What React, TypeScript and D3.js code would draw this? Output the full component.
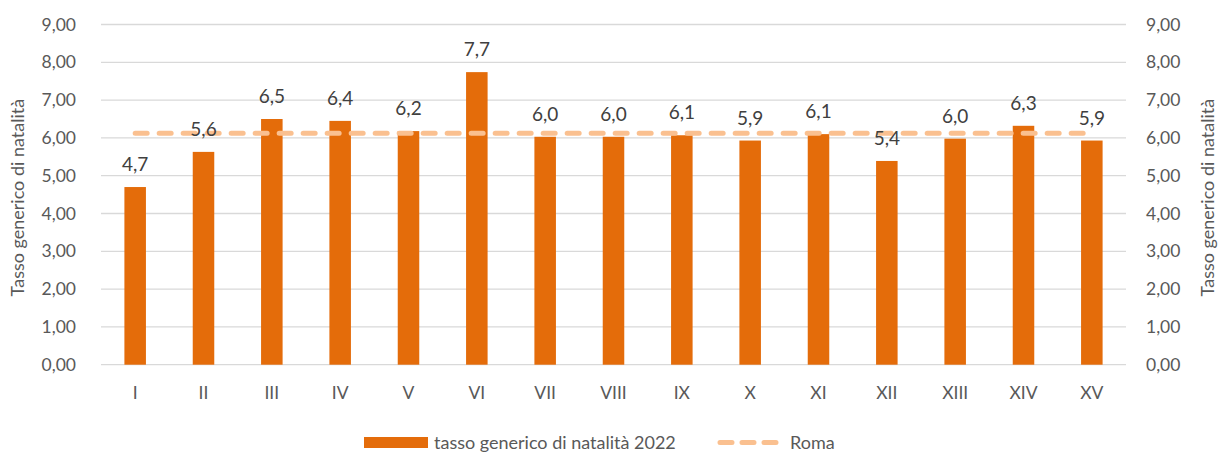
import React from "react";
import * as d3 from "d3";

const categories = ["I","II","III","IV","V","VI","VII","VIII","IX","X","XI","XII","XIII","XIV","XV"];
const values = [4.7,5.63,6.5,6.45,6.18,7.74,6.03,6.03,6.07,5.93,6.1,5.39,5.98,6.32,5.93];
const labels = ["4,7","5,6","6,5","6,4","6,2","7,7","6,0","6,0","6,1","5,9","6,1","5,4","6,0","6,3","5,9"];
const romaValue = 6.12;
const yTicks = [0,1,2,3,4,5,6,7,8,9];

const W = 1220, H = 452;
const left = 101, right = 1126, top = 24.5, bottom = 364.7;
const font = "Lato, 'Open Sans', sans-serif";

export default function App() {
  const x = d3.scaleBand<string>().domain(categories).range([left, right]).paddingInner(0.685).paddingOuter(0.3425);
  const y = d3.scaleLinear().domain([0, 9]).range([bottom, top]);
  const line = d3.line<string>().x(c => (x(c) as number) + x.bandwidth() / 2).y(() => y(romaValue));
  const fmt = (v: number) => v.toFixed(2).replace(".", ",");
  return (
    <svg width={W} height={H} style={{ position: "absolute", left: 0, top: 0 }} fontFamily={font}>
      <rect width={W} height={H} fill="#fff" />
      {yTicks.map(t => (
        <line key={t} x1={left} x2={right} y1={y(t)} y2={y(t)} stroke="#d9d9d9" strokeWidth={1.3} />
      ))}
      {yTicks.map(t => (
        <text key={"l" + t} x={76} y={y(t)} dy="0.35em" textAnchor="end" fontSize={17.5} fill="#595959">{fmt(t)}</text>
      ))}
      {yTicks.map(t => (
        <text key={"r" + t} x={1146} y={y(t)} dy="0.35em" textAnchor="start" fontSize={17.5} fill="#595959">{fmt(t)}</text>
      ))}
      <text transform={`translate(24,${(top + bottom) / 2 + 3}) rotate(-90)`} textAnchor="middle" fontSize={18} fill="#595959">Tasso generico di natalità</text>
      <text transform={`translate(1214,${(top + bottom) / 2 + 3}) rotate(-90)`} textAnchor="middle" fontSize={18} fill="#595959">Tasso generico di natalità</text>
      {categories.map((c, i) => (
        <rect key={c} x={x(c)} y={y(values[i])} width={x.bandwidth()} height={bottom - y(values[i])} fill="#E46C0A" />
      ))}
      <path d={line(categories) || ""} fill="none" stroke="#FAC090" strokeWidth={5} strokeDasharray="12 12" strokeLinecap="round" />
      {categories.map((c, i) => (
        <text key={"v" + c} x={(x(c) as number) + x.bandwidth() / 2} y={y(values[i]) - 16} textAnchor="middle" fontSize={19} fill="#404040">{labels[i]}</text>
      ))}
      {categories.map(c => (
        <text key={"x" + c} x={(x(c) as number) + x.bandwidth() / 2} y={393} dy="0.35em" textAnchor="middle" fontSize={17.5} fill="#595959">{c}</text>
      ))}
      <rect x={364} y={437} width={64} height={11} fill="#E46C0A" />
      <text x={434} y={442.5} dy="0.35em" fontSize={18} fill="#595959">tasso generico di natalità 2022</text>
      <line x1={720} x2={776} y1={442.5} y2={442.5} stroke="#FAC090" strokeWidth={5} strokeDasharray="12 10" strokeLinecap="round" />
      <text x={790} y={442.5} dy="0.35em" fontSize={18} fill="#595959">Roma</text>
    </svg>
  );
}
